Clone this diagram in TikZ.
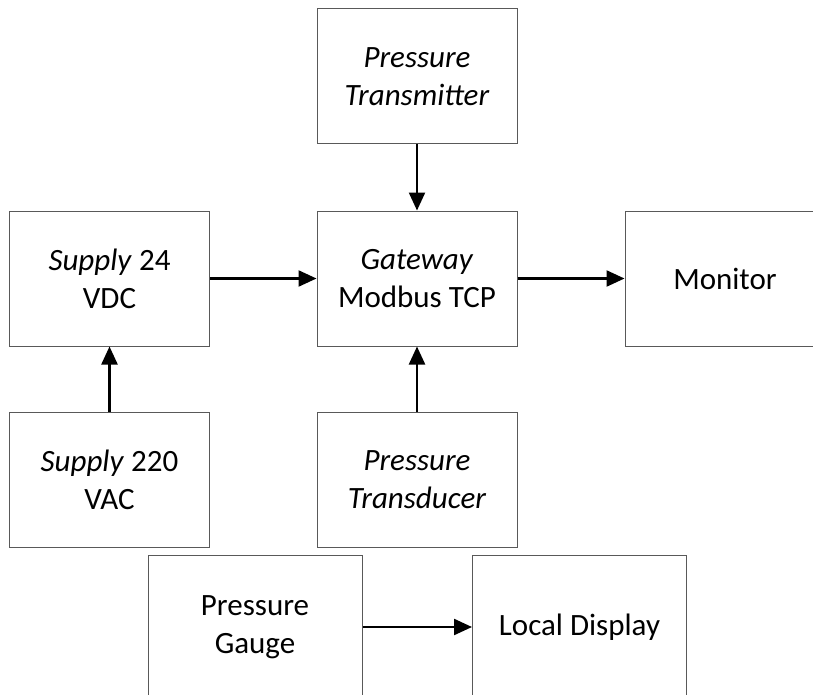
\documentclass[tikz,border=0pt]{standalone}
\usepackage{fontspec}
\setmainfont{Carlito}
\usetikzlibrary{arrows.meta}
\begin{document}
\begin{tikzpicture}[x=1pt,y=1pt,
  blockbox/.style={draw=black!65,line width=1pt,rectangle,align=center,
    minimum width=200pt,minimum height=135pt,inner sep=0pt,
    font=\fontsize{31}{38}\selectfont},
  widebox/.style={blockbox,minimum width=214pt,minimum height=144pt},
  flow/.style={line width=2.3pt,-{Triangle[length=18pt,width=16pt]}}]
\clip (0,0) rectangle (813,-695);
\fill[white] (0,0) rectangle (813,-695);
% upper row
\node[blockbox] (tx)  at (417,-76.5)  {\textit{Pressure}\\\textit{Transmitter}};
\node[blockbox] (s24) at (109.5,-278.5) {\textit{Supply} 24\\VDC};
\node[blockbox] (gw)  at (417,-278.5) {\textit{Gateway}\\Modbus TCP};
\node[blockbox] (mon) at (725,-278.5) {Monitor};
% lower row
\node[blockbox] (s220) at (109.5,-479.5) {\textit{Supply} 220\\VAC};
\node[blockbox] (td)   at (417,-479.5) {\textit{Pressure}\\\textit{Transducer}};
\node[widebox] (pg) at (255,-627) {Pressure\\Gauge};
\node[widebox] (ld) at (579.5,-627) {Local Display};
% signal and power flow
\draw[flow] (tx.south) -- (gw.north);
\draw[flow] (s24.east) -- (gw.west);
\draw[flow] (gw.east) -- (mon.west);
\draw[flow] (s220.north) -- (s24.south);
\draw[flow] (td.north) -- (gw.south);
\draw[flow] (pg.east) -- (ld.west);
\end{tikzpicture}
\end{document}
